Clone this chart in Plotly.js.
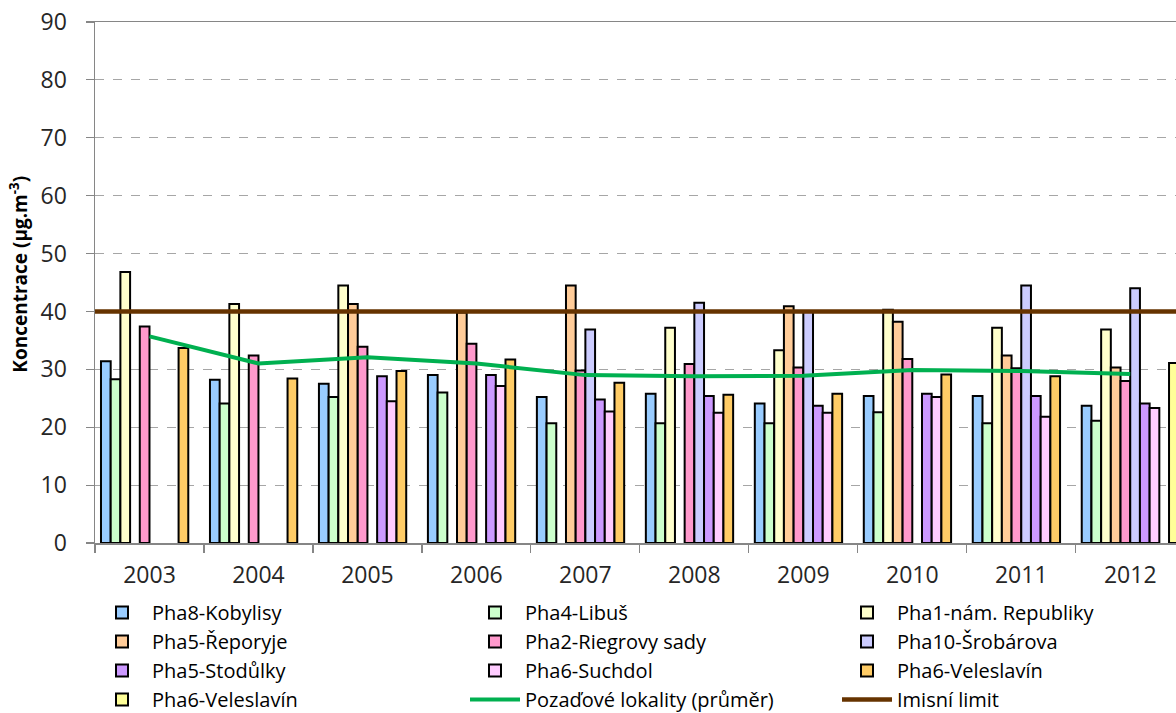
<!DOCTYPE html>
<html>
<head>
<meta charset="utf-8">
<script src="https://cdn.plot.ly/plotly-3.0.1.min.js"></script>
<style>html,body{margin:0;padding:0;background:#fff;}#chart{width:1176px;height:713px;}</style>
</head>
<body>
<div id="chart"></div>
<script>
const years = ['2003','2004','2005','2006','2007','2008','2009','2010','2011','2012'];

const kobylisy    = [31.4, 28.2, 27.5, 29.0, 25.2, 25.8, 24.1, 25.4, 25.4, 23.7];
const libus       = [28.3, 24.1, 25.2, 26.0, 20.7, 20.7, 20.7, 22.6, 20.7, 21.1];
const namRepubliky= [46.8, 41.3, 44.5, null, null, 37.2, 33.3, 40.3, 37.2, 36.9];
const reporyje    = [null, null, 41.3, 39.8, 44.5, null, 40.9, 38.2, 32.4, 30.3];
const riegrovy    = [37.4, 32.4, 33.9, 34.4, 29.8, 30.9, 30.3, 31.8, 30.2, 28.0];
const srobarova   = [null, null, null, null, 36.9, 41.5, 40.0, null, 44.5, 44.0];
const stodulky    = [null, null, 28.8, 29.0, 24.8, 25.4, 23.7, 25.8, 25.4, 24.1];
const suchdol     = [null, null, 24.5, 27.1, 22.7, 22.5, 22.5, 25.2, 21.8, 23.3];
const veleslavin  = [33.7, 28.4, 29.7, 31.7, 27.7, 25.6, 25.8, 29.1, 28.8, null];
const veleslavin2 = [null, null, null, null, null, null, null, null, null, 31.1];
const pozadove    = [35.7, 31.0, 32.1, 31.0, 29.0, 28.8, 28.9, 29.9, 29.7, 29.2];
const imisniLimit = 40;
const yTitle = '<b>Koncentrace (µg.m<sup>-3</sup>)</b>';

// [name, values, colour, legend column]
const barSeries = [
  ['Pha8-Kobylisy', kobylisy, '#99CCFF', 'legend'],
  ['Pha4-Libuš', libus, '#CCFFCC', 'legend2'],
  ['Pha1-nám. Republiky', namRepubliky, '#FFFFCC', 'legend3'],
  ['Pha5-Řeporyje', reporyje, '#FFCC99', 'legend'],
  ['Pha2-Riegrovy sady', riegrovy, '#FF99CC', 'legend2'],
  ['Pha10-Šrobárova', srobarova, '#CCCCFF', 'legend3'],
  ['Pha5-Stodůlky', stodulky, '#CC99FF', 'legend'],
  ['Pha6-Suchdol', suchdol, '#FFCCFF', 'legend2'],
  ['Pha6-Veleslavín', veleslavin, '#FFCC66', 'legend3'],
  ['Pha6-Veleslavín', veleslavin2, '#FFFF99', 'legend']
];

const FONT = 'Open Sans, sans-serif';
const traces = barSeries.map(([name, vals, color, leg]) => ({
  type: 'bar', name: name, x: years, y: vals, legend: leg,
  marker: {color: color, line: {color: '#000000', width: 2}},
  hoverinfo: 'x+y+name'
}));
traces.push({
  type: 'scatter', mode: 'lines', name: 'Pozaďové lokality (průměr)', legend: 'legend2',
  x: years, y: pozadove, line: {color: '#00B050', width: 4}
});
traces.push({
  type: 'scatter', mode: 'lines', name: 'Imisní limit', xaxis: 'x2', legend: 'legend3',
  x: [0, 1], y: [imisniLimit, imisniLimit], line: {color: '#663300', width: 4.5}
});

function legendAt(px) {
  return {
    orientation: 'v', traceorder: 'normal',
    xref: 'container', yref: 'container',
    x: px / 1176, xanchor: 'left', y: 1 - 593 / 713, yanchor: 'top',
    font: {size: 20, family: FONT, color: '#000'},
    itemwidth: 50, bgcolor: 'rgba(0,0,0,0)', tracegroupgap: 0
  };
}

const layout = {
  width: 1176, height: 713,
  margin: {l: 95, r: 0, t: 22, b: 170, autoexpand: false},
  paper_bgcolor: '#ffffff', plot_bgcolor: '#ffffff',
  font: {family: FONT, color: '#262626'},
  barmode: 'group', bargap: 0.11, bargroupgap: 0,
  showlegend: true,
  xaxis: {
    type: 'category', range: [-0.5, 9.42], automargin: false,
    tickson: 'boundaries', ticks: 'outside', ticklen: 8, tickcolor: '#868686', tickwidth: 1.2,
    showline: true, linecolor: '#868686', linewidth: 1.5, mirror: true,
    showgrid: false, tickfont: {size: 23, family: FONT, color: '#262626'},
    ticklabelstandoff: 11, tickangle: 0,
    fixedrange: true
  },
  xaxis2: {overlaying: 'x', range: [0, 1], visible: false, fixedrange: true},
  yaxis: {
    range: [0, 90], dtick: 10, tick0: 0, automargin: false,
    ticks: 'outside', ticklen: 8, tickcolor: '#868686', tickwidth: 1.2,
    showline: true, linecolor: '#868686', linewidth: 1.5,
    showgrid: true, gridcolor: '#A6A6A6', griddash: 'dash', gridwidth: 1,
    zeroline: false,
    tickfont: {size: 23, family: FONT, color: '#262626'},
    ticklabelstandoff: 14,
    fixedrange: true
  },
  annotations: [{
    text: yTitle, textangle: -90, showarrow: false,
    xref: 'paper', yref: 'paper', x: (19 - 95) / 1081, y: 0.515,
    xanchor: 'center', yanchor: 'middle',
    font: {size: 19, family: FONT, color: '#000'}
  }],
  legend: legendAt(92),
  legend2: legendAt(465),
  legend3: legendAt(837)
};

Plotly.newPlot('chart', traces, layout, {displayModeBar: false, staticPlot: true});
</script>
</body>
</html>
